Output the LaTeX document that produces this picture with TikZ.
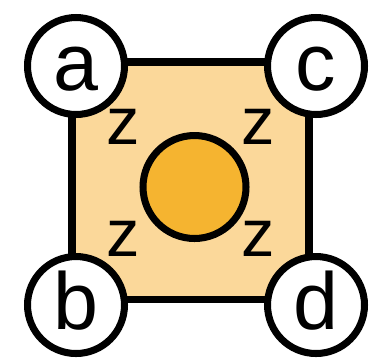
\documentclass[tikz,border=0pt]{standalone}
\usepackage{fontspec}
\setmainfont{Liberation Sans}
\usetikzlibrary{positioning}
\definecolor{CellFill}{HTML}{FBD89A}
\definecolor{DotFill}{HTML}{F5B430}

\begin{document}
\begin{tikzpicture}[x=0.02cm, y=-0.02cm,
    site/.style={circle, draw, line width=4pt, fill=white, minimum size=1.94cm, inner sep=0pt, text height=28.4pt, text depth=0pt, font=\fontsize{46}{46}\selectfont},
    zed/.style={inner sep=0pt, font=\fontsize{38}{38}\selectfont}]
    \useasboundingbox (0,0) rectangle (374,363);

    % ========== plaquette ==========
    \fill[CellFill] (72,62) rectangle (309,299);
    \draw[line width=4pt] (72,62) rectangle (309,299);

    % central dot
    \node[circle, draw, line width=4pt, fill=DotFill, minimum size=2.06cm, inner sep=0pt] (dot) at (194.5,187) {};

    % z labels
    \node[zed] (za) at (123,127) {z};
    \node[zed] (zc) at (258,127) {z};
    \node[zed] (zb) at (123,239) {z};
    \node[zed] (zd) at (258,239) {z};

    % ========== corner sites ==========
    \node[site] (a) at (76,66) {a};
    \node[site] (c) at (316,66) {c};
    \node[site] (b) at (76,305) {b};
    \node[site] (d) at (316,305) {d};

\end{tikzpicture}
\end{document}
